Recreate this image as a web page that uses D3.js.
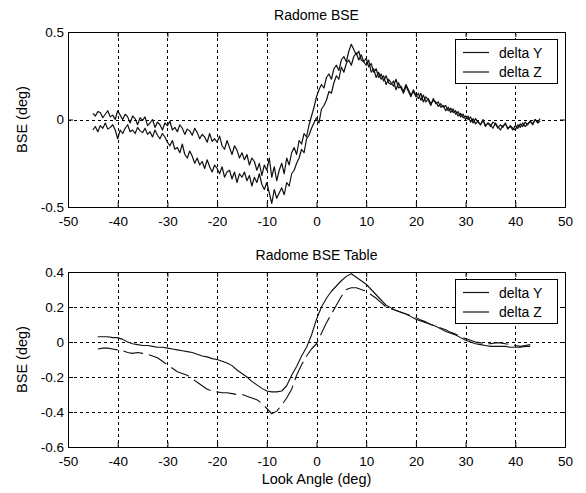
<!DOCTYPE html>
<html>
<head>
<meta charset="utf-8">
<script src="https://cdn.jsdelivr.net/npm/d3@7"></script>
<style>
    body { margin: 0; background: #fff; }
    text { font-family: "Liberation Sans", Arial, sans-serif; fill: #000; }
</style>
</head>
<body>
<div id="chart"></div>
<script>
// tick labels
const angle_ticks = [-50, -40, -30, -20, -10, 0, 10, 20, 30, 40, 50];
const raw_y_ticks = [-0.5, 0, 0.5];
const table_y_ticks = [-0.6, -0.4, -0.2, 0, 0.2, 0.4];
const series_names = ["delta Y", "delta Z"];

// Radome BSE (measured, every 0.5 deg from -45 to 45)
const raw_angles = d3.range(-45, 45.01, 0.5);
const raw_delta_y = [
    0.035, 0.02, 0.045, 0.04, 0.01, 0.03, 0.05, 0.015, 0.025, 0.0,
    0.05, 0.025, 0.0, 0.03, 0.015, -0.02, 0.02, 0.005, -0.03, 0.01,
    -0.005, 0.015, -0.035, -0.02, 0.0, -0.045, -0.015, -0.03, -0.06, -0.02,
    -0.035, -0.01, -0.06, -0.045, -0.07, -0.03, -0.05, -0.085, -0.055, -0.065,
    -0.09, -0.05, -0.075, -0.11, -0.085, -0.1, -0.13, -0.08, -0.125, -0.11,
    -0.13, -0.095, -0.15, -0.17, -0.12, -0.16, -0.2, -0.15, -0.175, -0.22,
    -0.19, -0.23, -0.2, -0.26, -0.22, -0.24, -0.29, -0.25, -0.32, -0.26,
    -0.29, -0.22, -0.33, -0.27, -0.35, -0.29, -0.25, -0.31, -0.22, -0.26,
    -0.19, -0.16, -0.2, -0.12, -0.14, -0.08, -0.1, -0.03, 0.02, 0.07,
    0.13, 0.17, 0.2, 0.18, 0.24, 0.26, 0.23, 0.29, 0.31, 0.28,
    0.34, 0.36, 0.33, 0.39, 0.43, 0.4, 0.37, 0.39, 0.34, 0.33,
    0.31, 0.34, 0.27, 0.29, 0.24, 0.27, 0.23, 0.25, 0.2, 0.23,
    0.21, 0.19, 0.23, 0.18, 0.19, 0.16, 0.2, 0.17, 0.14, 0.16,
    0.13, 0.15, 0.11, 0.14, 0.1, 0.12, 0.09, 0.11, 0.1, 0.075,
    0.09, 0.07, 0.08, 0.05, 0.065, 0.04, 0.05, 0.02, 0.035, 0.01,
    0.02, 0.0, 0.015, -0.02, 0.005, -0.015, -0.03, -0.005, -0.035, -0.02,
    -0.04, -0.015, -0.025, -0.05, -0.03, -0.045, -0.02, -0.055, -0.035, -0.05,
    -0.06, -0.03, -0.045, -0.02, -0.04, -0.025, -0.01, -0.03, 0.0, -0.02, -0.01
];
const raw_delta_z = [
    -0.06, -0.04, -0.07, -0.035, -0.05, -0.02, -0.055, -0.045, -0.03, -0.06,
    -0.11, -0.06, -0.08, -0.05, -0.03, -0.07, -0.06, -0.08, -0.045, -0.065,
    -0.075, -0.05, -0.085, -0.07, -0.1, -0.06, -0.09, -0.11, -0.08, -0.1,
    -0.13, -0.15, -0.12, -0.17, -0.16, -0.19, -0.14, -0.2, -0.22, -0.18,
    -0.21, -0.25, -0.22, -0.26, -0.24, -0.28, -0.23, -0.27, -0.3, -0.26,
    -0.28, -0.31, -0.27, -0.33, -0.3, -0.29, -0.34, -0.3, -0.36, -0.31,
    -0.33, -0.3, -0.35, -0.32, -0.38, -0.33, -0.36, -0.31, -0.37, -0.4,
    -0.36, -0.42, -0.48, -0.4, -0.45, -0.42, -0.39, -0.43, -0.36, -0.38,
    -0.31, -0.29, -0.25, -0.22, -0.17, -0.19, -0.11, -0.09, -0.05, -0.02,
    0.01, -0.02, 0.06, 0.08, 0.11, 0.16, 0.15, 0.21, 0.25, 0.23,
    0.3, 0.27, 0.32, 0.34, 0.31, 0.36, 0.38, 0.34, 0.37, 0.33,
    0.35, 0.3, 0.32, 0.27, 0.29, 0.24, 0.26, 0.22, 0.25, 0.21,
    0.2, 0.22, 0.17, 0.21, 0.18, 0.15, 0.19, 0.16, 0.13, 0.17,
    0.14, 0.12, 0.15, 0.1, 0.13, 0.11, 0.08, 0.12, 0.09, 0.1,
    0.07, 0.08, 0.05, 0.07, 0.04, 0.06, 0.03, 0.045, 0.015, 0.03,
    0.0, 0.02, -0.015, 0.005, -0.025, -0.01, -0.03, 0.0, -0.04, -0.02,
    -0.03, -0.05, -0.02, -0.04, -0.06, -0.035, -0.025, -0.05, -0.04, -0.06,
    -0.035, -0.05, -0.025, -0.04, -0.015, -0.03, -0.01, -0.025, 0.0, -0.015, 0.005
];

// Radome BSE Table (every 1 deg from -44 to 43)
const table_angles = d3.range(-44, 43.01, 1);
const table_delta_y = [
    0.03, 0.03, 0.03, 0.025, 0.025, 0.015, 0.0, -0.01, -0.015, -0.02,
    -0.02, -0.025, -0.03, -0.03, -0.035, -0.04, -0.045, -0.05, -0.055, -0.06,
    -0.07, -0.08, -0.085, -0.095, -0.1, -0.11, -0.12, -0.135, -0.16, -0.18,
    -0.2, -0.225, -0.245, -0.265, -0.28, -0.285, -0.285, -0.28, -0.25, -0.19,
    -0.14, -0.08, -0.03, 0.04, 0.13, 0.2, 0.25, 0.29, 0.32, 0.35,
    0.375, 0.39, 0.37, 0.35, 0.33, 0.3, 0.27, 0.24, 0.21, 0.195,
    0.18, 0.17, 0.16, 0.145, 0.13, 0.12, 0.11, 0.1, 0.09, 0.075,
    0.06, 0.05, 0.04, 0.025, 0.01, 0.0, -0.01, -0.015, -0.02, -0.025,
    -0.025, -0.025, -0.025, -0.03, -0.03, -0.03, -0.025, -0.025
];
const table_delta_z = [
    -0.04, -0.035, -0.035, -0.04, -0.045, -0.05, -0.06, -0.065, -0.06, -0.065,
    -0.07, -0.08, -0.09, -0.11, -0.13, -0.15, -0.17, -0.18, -0.19, -0.21,
    -0.23, -0.25, -0.27, -0.28, -0.285, -0.29, -0.29, -0.295, -0.3, -0.3,
    -0.31, -0.32, -0.33, -0.35, -0.38, -0.41, -0.395, -0.36, -0.32, -0.27,
    -0.19, -0.13, -0.08, -0.04, -0.01, 0.05, 0.11, 0.16, 0.21, 0.26,
    0.3, 0.31, 0.31, 0.3, 0.29, 0.27, 0.25, 0.225, 0.2, 0.19,
    0.18, 0.17, 0.16, 0.15, 0.14, 0.125, 0.115, 0.1, 0.09, 0.08,
    0.07, 0.055, 0.045, 0.03, 0.02, 0.01, 0.0, -0.005, -0.01, -0.01,
    -0.005, -0.005, -0.01, -0.015, -0.02, -0.025, -0.02, -0.015
];

const width = 586;
const height = 493;
const left = 68;
const right = 565;
const plot_height = 175;

const svg = d3.select("#chart").append("svg")
    .attr("width", width)
    .attr("height", height)
    .style("display", "block");

const x_scale = d3.scaleLinear().domain([-50, 50]).range([left, right]);

function draw_panel(cfg) {
    const top = cfg.top;
    const bottom = top + plot_height;
    const y_scale = d3.scaleLinear().domain(cfg.y_domain).range([bottom, top]);
    const g = svg.append("g");

    // dashed grid
    g.selectAll("line.vgrid")
        .data(angle_ticks.slice(1, -1))
        .join("line")
        .attr("x1", d => Math.round(x_scale(d)) + 0.5)
        .attr("x2", d => Math.round(x_scale(d)) + 0.5)
        .attr("y1", top).attr("y2", bottom)
        .attr("stroke", "#000")
        .attr("stroke-width", 1)
        .attr("stroke-dasharray", "3,3");

    g.selectAll("line.hgrid")
        .data(cfg.y_ticks.slice(1, -1))
        .join("line")
        .attr("x1", left).attr("x2", right)
        .attr("y1", d => Math.round(y_scale(d)) + 0.5)
        .attr("y2", d => Math.round(y_scale(d)) + 0.5)
        .attr("stroke", "#000")
        .attr("stroke-width", 1)
        .attr("stroke-dasharray", "3,3");

    // axes with inward ticks
    const fmt = d => String(d);
    g.append("g")
        .attr("transform", `translate(0,${bottom})`)
        .call(d3.axisBottom(x_scale).tickValues(angle_ticks).tickFormat(fmt)
            .tickSizeInner(-5).tickSizeOuter(0).tickPadding(9))
        .call(a => a.select(".domain").remove())
        .selectAll("text").style("font-size", "13.5px")
        .style("font-family", "'Liberation Sans', Arial, sans-serif");

    g.append("g")
        .attr("transform", `translate(0,${top})`)
        .call(d3.axisTop(x_scale).tickValues(angle_ticks).tickFormat("")
            .tickSizeInner(-5).tickSizeOuter(0))
        .call(a => a.select(".domain").remove());

    g.append("g")
        .attr("transform", `translate(${left},0)`)
        .call(d3.axisLeft(y_scale).tickValues(cfg.y_ticks).tickFormat(fmt)
            .tickSizeInner(-5).tickSizeOuter(0).tickPadding(4))
        .call(a => a.select(".domain").remove())
        .selectAll("text").style("font-size", "13.5px")
        .style("font-family", "'Liberation Sans', Arial, sans-serif");

    g.append("g")
        .attr("transform", `translate(${right},0)`)
        .call(d3.axisRight(y_scale).tickValues(cfg.y_ticks).tickFormat("")
            .tickSizeInner(-5).tickSizeOuter(0))
        .call(a => a.select(".domain").remove());

    g.selectAll(".tick line").attr("stroke", "#000");

    // frame
    g.append("rect")
        .attr("x", left + 0.5).attr("y", top + 0.5)
        .attr("width", right - left).attr("height", plot_height)
        .attr("fill", "none")
        .attr("stroke", "#000")
        .attr("stroke-width", 1);

    // series
    const line = d3.line()
        .x(d => x_scale(d[0]))
        .y(d => y_scale(d[1]));

    cfg.series.forEach((s, i) => {
        g.append("path")
            .datum(d3.zip(cfg.angles, s))
            .attr("d", line)
            .attr("fill", "none")
            .attr("stroke", "#111")
            .attr("stroke-width", cfg.line_width)
            .attr("stroke-linejoin", "round")
            .attr("stroke-dasharray", i === 1 && cfg.dashed ? "20,6" : null);
    });

    // title
    g.append("text")
        .attr("x", (left + right) / 2)
        .attr("y", top - 12)
        .attr("text-anchor", "middle")
        .style("font-size", "14px")
        .text(cfg.title);

    // y label
    g.append("text")
        .attr("transform", `translate(27,${(top + bottom) / 2}) rotate(-90)`)
        .attr("text-anchor", "middle")
        .style("font-size", "14.5px")
        .text("BSE (deg)");

    // legend
    const legend_w = 102;
    const legend_x = right - 8 - legend_w;
    const legend_y = top + 7;
    const legend = g.append("g").attr("transform", `translate(${legend_x},${legend_y})`);
    legend.append("rect")
        .attr("x", 0.5).attr("y", 0.5)
        .attr("width", legend_w).attr("height", 44)
        .attr("fill", "#fff")
        .attr("stroke", "#000")
        .attr("stroke-width", 1);
    series_names.forEach((name, i) => {
        const row_y = 13.5 + i * 19.5;
        legend.append("line")
            .attr("x1", 8).attr("x2", 34)
            .attr("y1", row_y).attr("y2", row_y)
            .attr("stroke", "#111")
            .attr("stroke-width", 1.2);
        legend.append("text")
            .attr("x", 44)
            .attr("y", row_y + 5)
            .style("font-size", "14px")
            .text(name);
    });
}

draw_panel({
    top: 32,
    y_domain: [-0.5, 0.5],
    y_ticks: raw_y_ticks,
    angles: raw_angles,
    series: [raw_delta_y, raw_delta_z],
    title: "Radome BSE",
    dashed: false,
    line_width: 1.2
});

draw_panel({
    top: 272,
    y_domain: [-0.6, 0.4],
    y_ticks: table_y_ticks,
    angles: table_angles,
    series: [table_delta_y, table_delta_z],
    title: "Radome BSE Table",
    dashed: true,
    line_width: 1.1
});

svg.append("text")
    .attr("x", (left + right) / 2)
    .attr("y", 484)
    .attr("text-anchor", "middle")
    .style("font-size", "14.5px")
    .text("Look Angle (deg)");
</script>
</body>
</html>
